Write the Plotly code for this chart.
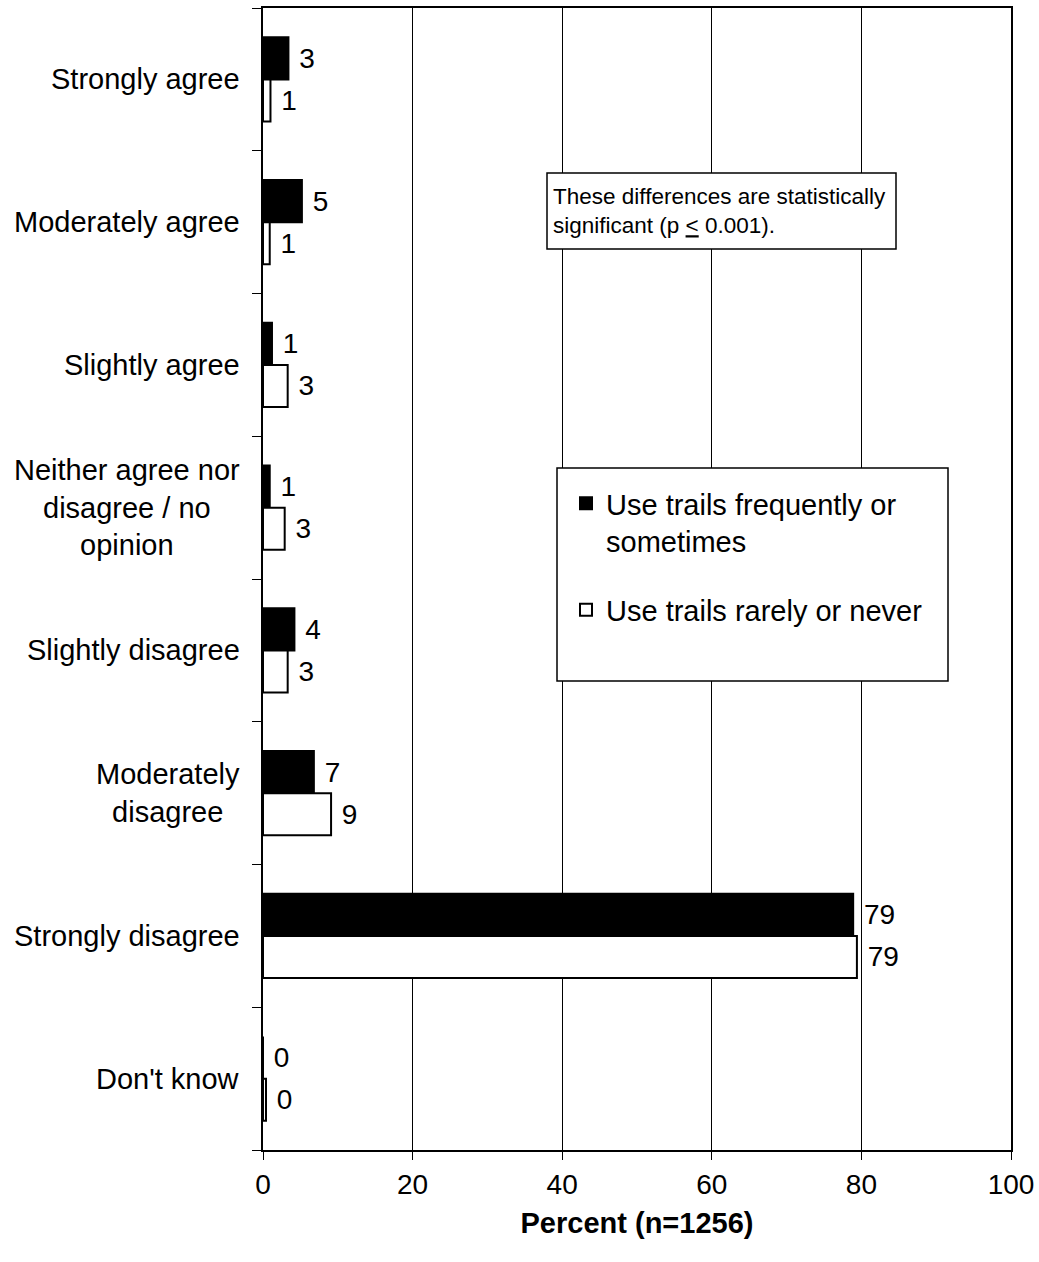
import plotly.graph_objects as go

categories = ["Strongly agree", "Moderately agree", "Slightly agree",
              "Neither agree nor<br>disagree / no<br>opinion", "Slightly disagree",
              "Moderately<br>disagree", "Strongly disagree", "Don't know"]
freq_values = [3.4, 5.2, 1.2, 0.9, 4.2, 6.8, 78.9, 0.0]
rare_values = [1.0, 0.9, 3.3, 2.9, 3.3, 9.1, 79.4, 0.4]
series_names = ["Use trails frequently or<br>sometimes", "Use trails rarely or never"]
x_ticks = [0, 20, 40, 60, 80, 100]

FONT = "Arial, Liberation Sans, sans-serif"
W, H = 1039, 1262
L, T = 263, 8
PR, PB = 1011, 1150
R, B = W - PR, H - PB
PW, PH = W - L - R, H - T - B


def py_(py):
    return 1 - (py - T) / PH


def px_(px):
    return (px - L) / PW


ids = list(range(len(categories)))

fig = go.Figure()
fig.add_trace(go.Bar(
    y=ids, x=freq_values, orientation="h", name=series_names[0],
    marker=dict(color="black", line=dict(color="black", width=2)),
    text=[f" {v:.0f}" for v in freq_values], textposition="outside",
    textfont=dict(family=FONT, size=28, color="black"),
    constraintext="none", cliponaxis=False, legendgroup="a",
))
fig.add_trace(go.Bar(
    y=ids, x=rare_values, orientation="h", name=series_names[1],
    marker=dict(color="white", line=dict(color="black", width=2)),
    text=[f" {v:.0f}" for v in rare_values], textposition="outside",
    textfont=dict(family=FONT, size=28, color="black"),
    constraintext="none", cliponaxis=False, legendgroup="b",
))

annotations = []
for i, c in enumerate(categories):
    annotations.append(dict(
        x=px_(242), xref="paper", y=i, yref="y",
        text=c, showarrow=False, xanchor="right", yanchor="middle", align="center",
        font=dict(family=FONT, size=29, color="black"),
    ))

# significance note
annotations.append(dict(
    x=px_(551), xref="paper", y=py_(211), yref="paper",
    text="These differences are statistically<br>significant (p <u>&lt;</u> 0.001).",
    showarrow=False, xanchor="left", yanchor="middle", align="left",
    font=dict(family=FONT, size=22.5, color="black"),
))

shapes = [
    dict(type="rect", xref="paper", yref="paper",
         x0=px_(547), x1=px_(896), y0=py_(249), y1=py_(173),
         line=dict(color="black", width=1.5), fillcolor="white", layer="above"),
    dict(type="rect", xref="paper", yref="paper",
         x0=px_(557), x1=px_(948), y0=py_(681), y1=py_(468),
         line=dict(color="black", width=1.5), fillcolor="white", layer="above"),
]

fig.update_layout(
    width=W, height=H,
    margin=dict(l=L, r=R, t=T, b=B, pad=0, autoexpand=False),
    paper_bgcolor="white", plot_bgcolor="white",
    barmode="group", bargap=0.41, bargroupgap=0,
    font=dict(family=FONT, size=28, color="black"),
    showlegend=True,
    legend=dict(
        x=px_(566), y=py_(478), xanchor="left", yanchor="top",
        bgcolor="rgba(0,0,0,0)", borderwidth=0,
        font=dict(family=FONT, size=29, color="black"),
        valign="top", tracegroupgap=28, traceorder="grouped",
    ),
    annotations=annotations,
    shapes=shapes,
)

fig.update_xaxes(
    range=[0, 100], tickvals=x_ticks, ticktext=[str(t) for t in x_ticks],
    showgrid=True, gridcolor="black", gridwidth=1,
    showline=True, linecolor="black", linewidth=2, mirror=True,
    ticks="outside", ticklen=8, tickcolor="black", tickwidth=1,
    tickfont=dict(family=FONT, size=28, color="black"),
    zeroline=False, automargin=False,
    title=dict(text="<b>Percent (n=1256)</b>", font=dict(family=FONT, size=29, color="black"), standoff=14),
)
fig.update_yaxes(
    type="linear", range=[len(categories) - 0.5, -0.5],
    tickvals=[i - 0.5 for i in range(len(categories) + 1)], showticklabels=False,
    showgrid=False, zeroline=False, automargin=False,
    showline=True, linecolor="black", linewidth=2, mirror=True,
    ticks="outside", ticklen=9, tickcolor="black", tickwidth=1,
)

fig.write_html(
    "out.html",
    config={"displayModeBar": False},
    post_script="document.body.style.margin='0';document.body.style.overflow='hidden';",
)
